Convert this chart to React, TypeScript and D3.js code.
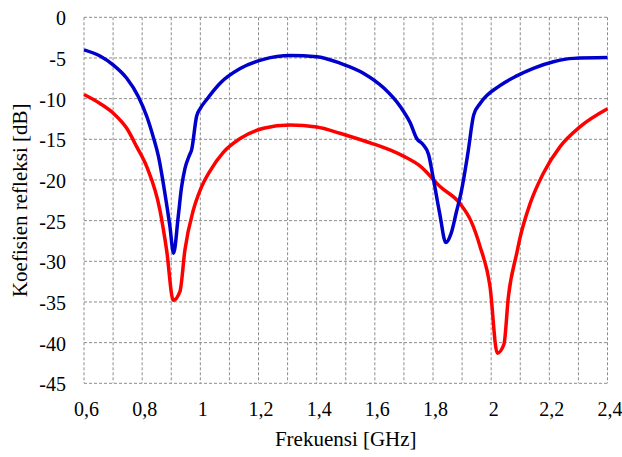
import React from "react";
import * as d3 from "d3";

const xTicks = [0.6, 0.8, 1.0, 1.2, 1.4, 1.6, 1.8, 2.0, 2.2, 2.4];
const xGrid = [0.6, 0.7, 0.8, 0.9, 1.0, 1.1, 1.2, 1.3, 1.4, 1.5, 1.6, 1.7, 1.8, 1.9, 2.0, 2.1, 2.2, 2.3, 2.4];
const yTicks = [0, -5, -10, -15, -20, -25, -30, -35, -40, -45];

const blueFreq = [0.6, 0.655, 0.7, 0.747, 0.787, 0.816, 0.838, 0.856, 0.878, 0.895, 0.908, 0.924, 0.935, 0.947, 0.962, 0.97, 0.987, 1.0, 1.022, 1.068, 1.137, 1.217, 1.31, 1.4, 1.482, 1.562, 1.631, 1.688, 1.722, 1.744, 1.765, 1.785, 1.8, 1.823, 1.844, 1.862, 1.88, 1.898, 1.92, 1.94, 1.962, 2.03, 2.088, 2.145, 2.214, 2.283, 2.4];
const blueDb = [-4.0, -4.76, -5.85, -7.5, -9.76, -12.2, -14.7, -17.1, -21.6, -25.6, -29.0, -24.5, -21.0, -18.6, -17.0, -16.3, -12.2, -11.2, -10.1, -8.1, -6.3, -5.17, -4.7, -4.84, -5.66, -6.9, -8.7, -11.0, -13.0, -14.9, -15.6, -16.9, -19.6, -24.1, -27.7, -26.6, -24.0, -21.3, -16.7, -12.0, -10.6, -8.4, -7.2, -6.27, -5.46, -5.05, -4.95];

const redFreq = [0.6, 0.655, 0.701, 0.747, 0.781, 0.816, 0.861, 0.884, 0.907, 0.93, 0.947, 0.976, 1.0, 1.033, 1.079, 1.137, 1.217, 1.308, 1.4, 1.48, 1.572, 1.652, 1.7, 1.756, 1.824, 1.893, 1.93, 1.962, 1.996, 2.021, 2.044, 2.059, 2.088, 2.1, 2.134, 2.179, 2.237, 2.306, 2.4];
const redDb = [-9.5, -10.6, -11.8, -13.65, -15.9, -18.4, -23.7, -28.6, -34.8, -33.7, -28.6, -23.7, -21.2, -18.9, -16.6, -14.9, -13.65, -13.24, -13.5, -14.26, -15.3, -16.3, -17.1, -18.3, -20.8, -22.9, -25.0, -28.2, -33.1, -41.3, -40.2, -34.4, -29.0, -27.0, -22.9, -19.2, -15.9, -13.45, -11.25];

const FONT = '"Liberation Serif", Tinos, "Times New Roman", FreeSerif, serif';

export default function App() {
  const left = 84, right = 607.5, top = 17.3, bottom = 383.3;
  const x = d3.scaleLinear().domain([0.6, 2.4]).range([left, right]);
  const y = d3.scaleLinear().domain([0, -45]).range([top, bottom]);
  const line = d3.line<[number, number]>().x(d => x(d[0])).y(d => y(d[1])).curve(d3.curveMonotoneX);
  const blue = line(blueFreq.map((f, i) => [f, blueDb[i]]) as [number, number][]) || "";
  const red = line(redFreq.map((f, i) => [f, redDb[i]]) as [number, number][]) || "";
  const gridStyle = { stroke: "#8c8c8c", strokeWidth: 1, strokeDasharray: "3,2" };
  const ts = { fontFamily: FONT };
  return (
    <svg width={622} height={457} style={{ position: "absolute", left: 0, top: 0, background: "#fff" }}>
      <style>{`text { font-family: ${FONT}; }`}</style>
      {xGrid.map(g => (
        <line key={"vx" + g} x1={x(g)} x2={x(g)} y1={top} y2={bottom} {...gridStyle} />
      ))}
      {yTicks.map(t => (
        <line key={"hy" + t} x1={left} x2={right} y1={y(t)} y2={y(t)} {...gridStyle} />
      ))}
      <path d={red} fill="none" stroke="#ff0000" strokeWidth={3.5} strokeLinejoin="round" />
      <path d={blue} fill="none" stroke="#0000cc" strokeWidth={3.5} strokeLinejoin="round" />
      {yTicks.map(t => (
        <text key={"yl" + t} x={66} y={y(t) + 8} textAnchor="end" fontSize={20} style={ts}>
          {String(t)}
        </text>
      ))}
      {xTicks.map(t => (
        <text key={"xl" + t} x={x(t) + 2.5} y={416} textAnchor="middle" fontSize={20} style={ts}>
          {String(t).replace(".", ",")}
        </text>
      ))}
      <text x={(left + right) / 2} y={446} textAnchor="middle" fontSize={21} style={ts}>Frekuensi [GHz]</text>
      <text transform={`translate(27,${(top + bottom) / 2}) rotate(-90)`} textAnchor="middle" fontSize={21} style={ts}>Koefisien refleksi [dB]</text>
    </svg>
  );
}
